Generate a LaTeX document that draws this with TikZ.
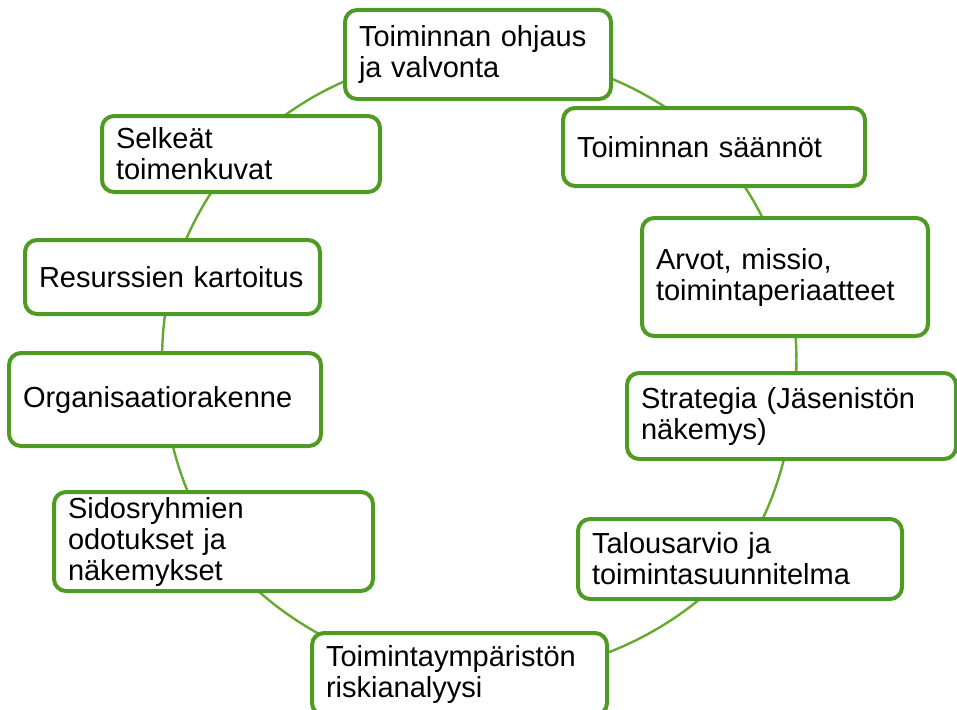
\documentclass[tikz,border=0pt]{standalone}
\usepackage{fontspec}
\setmainfont{Liberation Sans}
\usetikzlibrary{backgrounds}
\definecolor{boxgreen}{RGB}{79,154,34}
\definecolor{linkgreen}{RGB}{100,170,48}
\begin{document}
\begin{tikzpicture}[x=1pt,y=-1pt,
  stagebox/.style={draw=boxgreen, line width=4pt, fill=white, rounded corners=12pt,
    inner xsep=14pt, inner ysep=0pt, align=left, font=\fontsize{29}{31}\selectfont},
  link/.style={draw=linkgreen, line width=2.4pt, looseness=0.87}]
\path[use as bounding box, clip] (0,0) rectangle (957,709);
\node[stagebox, minimum width=266pt, minimum height=89pt, text width=238pt] (n1) at (478,54.5) {Toiminnan ohjaus\\ja valvonta};
\node[stagebox, minimum width=302pt, minimum height=78pt, text width=274pt] (n2) at (714,147) {Toiminnan säännöt};
\node[stagebox, minimum width=286pt, minimum height=118pt, text width=258pt] (n3) at (785,277) {Arvot, missio,\\toimintaperiaatteet};
\node[stagebox, minimum width=329pt, minimum height=86pt, text width=301pt] (n4) at (791.5,416) {Strategia (Jäsenistön\\näkemys)};
\node[stagebox, minimum width=324pt, minimum height=80pt, text width=296pt] (n5) at (740,559) {Talousarvio ja\\toimintasuunnitelma};
\node[stagebox, minimum width=295pt, minimum height=82pt, text width=267pt] (n6) at (459.5,674) {Toimintaympäristön\\riskianalyysi};
\node[stagebox, minimum width=319pt, minimum height=99pt, text width=291pt] (n7) at (213.5,541.5) {Sidosryhmien\\odotukset ja\\näkemykset};
\node[stagebox, minimum width=312pt, minimum height=93pt, text width=284pt] (n8) at (165,399.5) {Organisaatiorakenne};
\node[stagebox, minimum width=295pt, minimum height=74pt, text width=267pt] (n9) at (172.5,277) {Resurssien kartoitus};
\node[stagebox, minimum width=278pt, minimum height=76pt, text width=250pt] (n10) at (241,154) {Selkeät\\toimenkuvat};
\begin{scope}[on background layer]
\draw[link] (n1.center) to[bend left=24] (n2.center);
\draw[link] (n2.center) to[bend left=13.6] (n3.center);
\draw[link] (n3.center) to[bend left=12.8] (n4.center);
\draw[link] (n4.center) to[bend left=13.7] (n5.center);
\draw[link] (n5.center) to[bend left=28.2] (n6.center);
\draw[link] (n6.center) to[bend left=26.1] (n7.center);
\draw[link] (n7.center) to[bend left=13.4] (n8.center);
\draw[link] (n8.center) to[bend left=11.1] (n9.center);
\draw[link] (n9.center) to[bend left=12.9] (n10.center);
\draw[link] (n10.center) to[bend left=24.3] (n1.center);
\end{scope}
\end{tikzpicture}
\end{document}
